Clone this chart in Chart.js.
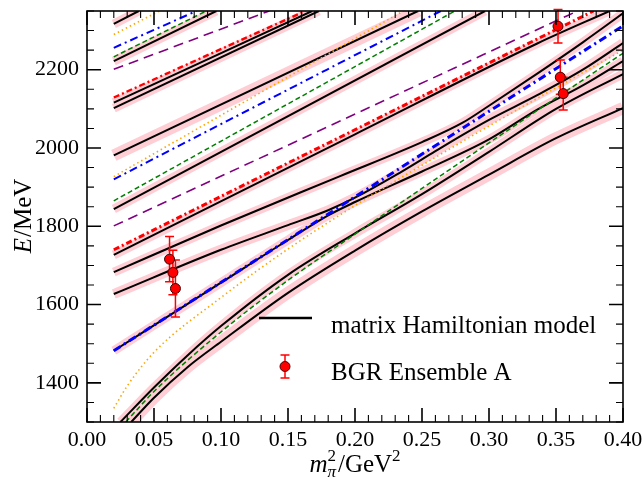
<!DOCTYPE html>
<html>
<head>
<meta charset="utf-8">
<script src="https://cdn.jsdelivr.net/npm/chart.js@4.4.1/dist/chart.umd.min.js"></script>
<style>
  html, body { margin: 0; padding: 0; background: #fff; }
</style>
</head>
<body>
<canvas id="levels" width="643" height="480"></canvas>
<script>
// tick values
const xTicks = [0.00, 0.05, 0.10, 0.15, 0.20, 0.25, 0.30, 0.35, 0.40];
const yTicks = [1400, 1600, 1800, 2000, 2200];

// non-interacting levels, [m_pi^2, E]
const orange1 = [[0.02,1335],[0.03,1392],[0.05,1478],[0.10,1618],[0.15,1742],[0.20,1853],[0.25,1956],[0.30,2056],[0.35,2154],[0.40,2250]];
const orange2 = [[0.02,1927],[0.236,2350]];
const orange3 = [[0.02,2290],[0.054,2350]];
const green1 = [[0.029,1300],[0.05,1378],[0.10,1530],[0.15,1662],[0.20,1780],[0.25,1897],[0.30,2013],[0.35,2128],[0.40,2242]];
const green2 = [[0.02,1865],[0.2745,2350]];
const green3 = [[0.02,2233],[0.089,2350]];
const blue1 = [[0.02,1482],[0.40,2312]];
const blue2 = [[0.02,1920],[0.264,2350]];
const blue3 = [[0.02,2256],[0.0816,2350]];
const purple1 = [[0.02,1801],[0.366,2350]];
const purple2 = [[0.02,2201],[0.136,2350]];
const red1 = [[0.02,1740],[0.378,2350]];
const red2 = [[0.02,2129],[0.163,2350]];

// matrix Hamiltonian model eigenvalues
const black1 = [[0.02,2317],[0.0386,2350]];
const black2 = [[0.02,2222],[0.0965,2350]];
const black3 = [[0.02,2116],[0.168,2350]];
const black4 = [[0.02,2102],[0.173,2350]];
const black5 = [[0.02,1981],[0.247,2350]];
const black6 = [[0.02,1844],[0.297,2350]];
const black7 = [[0.02,1727],[0.20,2035],[0.336,2267],[0.39,2350]];
const black8 = [[0.02,1683],[0.10,1802],[0.188,1927],[0.25,2015],[0.28,2064],[0.30,2108],[0.336,2190],[0.37,2270],[0.40,2344]];
const black9 = [[0.02,1627],[0.10,1740],[0.15,1803],[0.18,1841],[0.20,1873],[0.23,1930],[0.26,1992],[0.28,2033],[0.30,2072],[0.336,2135],[0.37,2200],[0.40,2268]];
const black10 = [[0.02,1482],[0.10,1656],[0.15,1765],[0.18,1828],[0.20,1862],[0.25,1940],[0.30,2022],[0.336,2098],[0.37,2160],[0.40,2222]];
const black11 = [[0.025,1300],[0.05,1388],[0.075,1470],[0.10,1545],[0.15,1676],[0.20,1782],[0.25,1882],[0.30,1990],[0.35,2100],[0.40,2189]];
const black12 = [[0.033,1300],[0.05,1362],[0.075,1440],[0.10,1505],[0.15,1630],[0.20,1738],[0.25,1838],[0.30,1932],[0.35,2025],[0.40,2102]];

// lattice points (BGR ensemble A)
const latticeX = [0.0616, 0.0641, 0.0660, 0.3515, 0.3532, 0.3554];
const latticeE = [1716, 1682, 1641, 2311, 2181, 2139];
const latticeErr = [58, 57, 73, 43, 44, 42];

const pts = arr => arr.map(p => ({x: p[0], y: p[1]}));

function curve(data, color, width, dash, order) {
  return {
    type: 'line', data: pts(data), borderColor: color, borderWidth: width,
    borderDash: dash, pointRadius: 0, cubicInterpolationMode: 'monotone',
    fill: false, order: order
  };
}

const blacks = [black1, black2, black3, black4, black5, black6, black7, black8, black9, black10, black11, black12];
const bandWidth = [9, 9, 9, 9, 12, 9, 9, 9, 10, 9, 9, 12];

const datasets = [];
// lattice data on top
datasets.push({
  type: 'scatter',
  data: latticeX.map((x, i) => ({x: x, y: latticeE[i]})),
  backgroundColor: '#ff0000', borderColor: '#400000', borderWidth: 1,
  pointRadius: 5, order: 0
});
// coloured non-interacting lines
const dotted = [1.5, 3], dashed = [5, 3], longDash = [10, 6], dashDot = [8, 4, 2, 4], redDot = [6, 3, 2, 3];
datasets.push(curve(blue1, '#0000ff', 3, dashDot, 2));
datasets.push(curve(blue2, '#0000ff', 2, dashDot, 2));
datasets.push(curve(blue3, '#0000ff', 2, dashDot, 2));
datasets.push(curve(red1, '#ff0000', 3, redDot, 2));
datasets.push(curve(red2, '#ff0000', 2.4, redDot, 2));
datasets.push(curve(purple1, '#800080', 1.6, longDash, 2));
datasets.push(curve(purple2, '#800080', 1.6, longDash, 2));
datasets.push(curve(green1, '#008000', 1.5, dashed, 2));
datasets.push(curve(green2, '#008000', 1.5, dashed, 2));
datasets.push(curve(green3, '#008000', 1.5, dashed, 2));
datasets.push(curve(orange1, '#ffa500', 1.6, dotted, 2));
datasets.push(curve(orange2, '#ffa500', 1.6, dotted, 2));
datasets.push(curve(orange3, '#ffa500', 1.6, dotted, 2));
// black eigenvalue lines and their pink bands
blacks.forEach(b => datasets.push(curve(b, '#000000', 2, [], 5)));
blacks.forEach((b, i) => datasets.push(curve(b, 'rgb(255,205,212)', bandWidth[i], [], 10)));

function drawTicks(ctx, area, xs, ys) {
  ctx.save();
  ctx.strokeStyle = '#000';
  const major = 14, minor = 7;
  for (let v = 0; v <= 0.4001; v += 0.01) {
    const p = xs.getPixelForValue(v);
    const isMajor = Math.abs(v / 0.05 - Math.round(v / 0.05)) < 1e-6;
    const len = isMajor ? major : minor;
    ctx.lineWidth = isMajor ? 1.6 : 1.1;
    ctx.beginPath();
    ctx.moveTo(p, area.bottom); ctx.lineTo(p, area.bottom - len);
    ctx.moveTo(p, area.top); ctx.lineTo(p, area.top + len);
    ctx.stroke();
  }
  for (let v = 1300; v <= 2350; v += 50) {
    const p = ys.getPixelForValue(v);
    const isMajor = v % 200 === 0 && v >= 1400;
    const len = isMajor ? major : minor;
    ctx.lineWidth = isMajor ? 1.6 : 1.1;
    ctx.beginPath();
    ctx.moveTo(area.left, p); ctx.lineTo(area.left + len, p);
    ctx.moveTo(area.right, p); ctx.lineTo(area.right - len, p);
    ctx.stroke();
  }
  ctx.lineWidth = 1.6;
  ctx.strokeRect(area.left, area.top, area.right - area.left, area.bottom - area.top);
  ctx.restore();
}

const serif = "'Liberation Serif', 'DejaVu Serif', serif";

const decorations = {
  id: 'decorations',
  beforeDatasetDraw(chart, args) {
    if (args.index !== 0) return;
    // error bars under the markers
    const ctx = chart.ctx, xs = chart.scales.x, ys = chart.scales.y;
    ctx.save();
    ctx.strokeStyle = '#ff0000';
    ctx.lineWidth = 1.5;
    latticeX.forEach((x, i) => {
      const px = xs.getPixelForValue(x);
      const lo = ys.getPixelForValue(latticeE[i] - latticeErr[i]);
      const hi = ys.getPixelForValue(latticeE[i] + latticeErr[i]);
      ctx.beginPath();
      ctx.moveTo(px, lo); ctx.lineTo(px, hi);
      ctx.moveTo(px - 4.5, lo); ctx.lineTo(px + 4.5, lo);
      ctx.moveTo(px - 4.5, hi); ctx.lineTo(px + 4.5, hi);
      ctx.stroke();
    });
    ctx.restore();
  },
  afterDraw(chart) {
    const ctx = chart.ctx, area = chart.chartArea;
    drawTicks(ctx, area, chart.scales.x, chart.scales.y);

    ctx.save();
    ctx.fillStyle = '#000';
    // legend
    ctx.strokeStyle = '#000';
    ctx.lineWidth = 2.5;
    ctx.beginPath(); ctx.moveTo(259, 318); ctx.lineTo(312, 318); ctx.stroke();
    ctx.font = '25px ' + serif;
    ctx.textBaseline = 'alphabetic';
    ctx.textAlign = 'left';
    ctx.fillText('matrix Hamiltonian model', 331, 333);
    ctx.fillText('BGR Ensemble A', 331, 380);
    ctx.strokeStyle = '#ff0000';
    ctx.lineWidth = 1.5;
    ctx.beginPath();
    ctx.moveTo(285, 355); ctx.lineTo(285, 378);
    ctx.moveTo(280.5, 355); ctx.lineTo(289.5, 355);
    ctx.moveTo(280.5, 378); ctx.lineTo(289.5, 378);
    ctx.stroke();
    ctx.beginPath(); ctx.arc(285, 366.5, 5, 0, Math.PI * 2);
    ctx.fillStyle = '#ff0000'; ctx.fill();
    ctx.strokeStyle = '#400000'; ctx.lineWidth = 1; ctx.stroke();

    // y axis title: E/MeV
    ctx.fillStyle = '#000';
    ctx.save();
    ctx.translate(31, (area.top + area.bottom) / 2);
    ctx.rotate(-Math.PI / 2);
    ctx.font = 'italic 25px ' + serif;
    const wE = ctx.measureText('E').width;
    ctx.font = '25px ' + serif;
    const wRest = ctx.measureText('/MeV').width;
    let x0 = -(wE + wRest) / 2;
    ctx.font = 'italic 25px ' + serif;
    ctx.fillText('E', x0, 0);
    ctx.font = '25px ' + serif;
    ctx.fillText('/MeV', x0 + wE + 1, 0);
    ctx.restore();

    // x axis title: m_pi^2 / GeV^2
    const base = 472;
    ctx.font = 'italic 25px ' + serif;
    const wm = ctx.measureText('m').width;
    ctx.font = 'italic 17px ' + serif;
    const wpi = ctx.measureText('π').width;
    ctx.font = '25px ' + serif;
    const wg = ctx.measureText('/GeV').width;
    ctx.font = '17px ' + serif;
    const w2 = ctx.measureText('2').width;
    const total = wm + wpi + 2 + wg + w2;
    let cx = (area.left + area.right) / 2 - total / 2;
    ctx.font = 'italic 25px ' + serif;
    ctx.fillText('m', cx, base);
    cx += wm;
    ctx.font = '17px ' + serif;
    ctx.fillText('2', cx, base - 11);
    ctx.font = 'italic 17px ' + serif;
    ctx.fillText('π', cx, base + 5);
    cx += wpi + 2;
    ctx.font = '25px ' + serif;
    ctx.fillText('/GeV', cx, base);
    cx += wg;
    ctx.font = '17px ' + serif;
    ctx.fillText('2', cx, base - 11);
    ctx.restore();
  }
};

new Chart(document.getElementById('levels').getContext('2d'), {
  type: 'scatter',
  data: { datasets: datasets },
  options: {
    responsive: false,
    animation: false,
    devicePixelRatio: 1,
    layout: { padding: { left: 0, right: 20, top: 11, bottom: 0 } },
    plugins: { legend: { display: false }, tooltip: { enabled: false } },
    scales: {
      x: {
        type: 'linear', min: 0, max: 0.40,
        afterFit: s => { s.height = 58; s.paddingLeft = 0; s.paddingRight = 0; },
        afterBuildTicks: s => { s.ticks = xTicks.map(v => ({value: v})); },
        grid: { display: false, drawTicks: false },
        border: { display: false },
        ticks: {
          padding: 5, color: '#000', maxRotation: 0, autoSkip: false,
          font: { family: serif, size: 22 },
          callback: v => Number(v).toFixed(2)
        }
      },
      y: {
        type: 'linear', min: 1300, max: 2350,
        afterFit: s => { s.width = 87; s.paddingTop = 0; s.paddingBottom = 0; },
        afterBuildTicks: s => { s.ticks = yTicks.map(v => ({value: v})); },
        grid: { display: false, drawTicks: false },
        border: { display: false },
        ticks: {
          padding: 8, color: '#000', autoSkip: false,
          font: { family: serif, size: 22 },
          callback: v => String(v)
        }
      }
    }
  },
  plugins: [decorations]
});
</script>
</body>
</html>
